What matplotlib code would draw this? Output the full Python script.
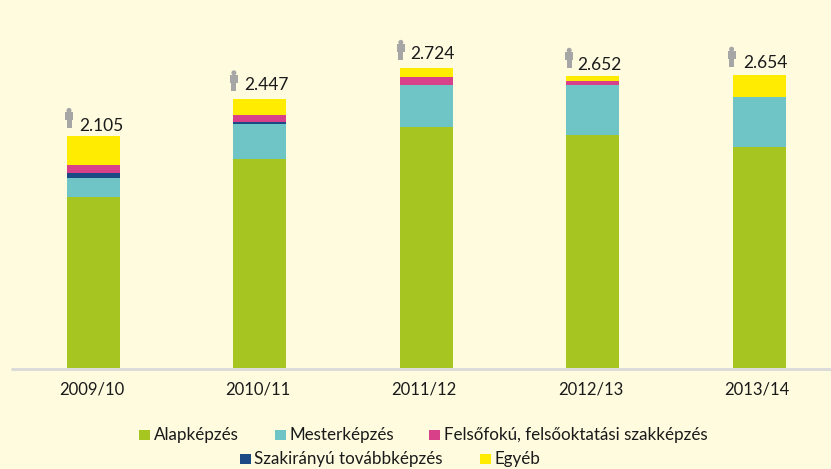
import matplotlib
matplotlib.use("Agg")
import matplotlib.pyplot as plt
import numpy as np
from matplotlib.patches import Rectangle, Ellipse

years = ["2009/10", "2010/11", "2011/12", "2012/13", "2013/14"]
totals = ["2.105", "2.447", "2.724", "2.652", "2.654"]
alap = [1552, 1900, 2188, 2116, 2012]
mester = [172, 318, 382, 455, 455]
szak = [45, 18, 0, 0, 0]
felso = [72, 64, 73, 36, 0]
egyeb = [264, 147, 81, 45, 195]

names = ["Alapképzés", "Mesterképzés", "Felsőfokú, felsőoktatási szakképzés",
         "Szakirányú továbbképzés", "Egyéb"]
colors = ["#a7c520", "#6fc4c6", "#d9408a", "#1c4a84", "#ffec00"]
bg = "#fefbdf"
icon_col = "#a6a6a6"
txt = "#1a1a1a"

# label / icon nudges per bar, in pixels
label_dx = [8, 6.5, 6, 7, 6.5]
label_dy = [10.5, 13.5, 14.5, 11.5, 12.5]
icon_dx = [-24.5, -26, -25.5, -23.5, -27.5]

plt.rcParams['font.family'] = ['Lato', 'DejaVu Sans']

fig = plt.figure(figsize=(8.31, 4.69), dpi=100, facecolor=bg)
ax = fig.add_axes([0, (469 - 368) / 469, 1, 368 / 469], facecolor=bg)
ax.set_xlim(0, 831)
ax.set_ylim(0, 368 / 0.11)
ypx = 1 / 0.11  # data units per pixel

x = 93.5 + 166.4 * np.arange(5)
bottom = np.zeros(5)
for vals, c in [(alap, 0), (mester, 1), (szak, 3), (felso, 2), (egyeb, 4)]:
    ax.bar(x, vals, 53, bottom=bottom, color=colors[c], linewidth=0)
    bottom = bottom + np.array(vals)

for i, (xi, t, top) in enumerate(zip(x, totals, bottom)):
    ax.text(xi + label_dx[i], top + label_dy[i] * ypx, t, fontsize=12.5, color=txt,
            ha="center", va="center")
    # little person icon
    px = xi + icon_dx[i]
    base = top + 8 * ypx
    ax.add_patch(Rectangle((px - 2.5, base), 5, 9 * ypx, color=icon_col, lw=0))
    ax.add_patch(Rectangle((px - 4, base + 8 * ypx), 8, 8 * ypx, color=icon_col, lw=0))
    ax.add_patch(Ellipse((px, base + 18 * ypx), 5, 5 * ypx, color=icon_col, lw=0))

for s in ax.spines.values():
    s.set_visible(False)
ax.plot([11, 831], [-1 * ypx, -1 * ypx], color="#d9d9d9", lw=2, clip_on=False,
        solid_capstyle="butt")
ax.set_yticks([])
ax.set_xticks(x - 2)
ax.set_xticklabels(years, fontsize=12, color=txt)
ax.tick_params(axis='x', length=0, pad=10)

# legend, two centred rows
legend_pos = [(139, 435), (275, 435), (429, 435), (240, 459), (480, 459)]
for i, (lx, ly) in enumerate(legend_pos):
    fig.patches.append(Rectangle((lx / 831, 1 - (ly + 5) / 469), 11 / 831, 10 / 469,
                                 transform=fig.transFigure, color=colors[i], lw=0))
    fig.text((lx + 14.5) / 831, 1 - ly / 469, names[i], fontsize=12.25, color=txt,
             ha="left", va="center")

fig.savefig("out.png", dpi=100, facecolor=bg)
